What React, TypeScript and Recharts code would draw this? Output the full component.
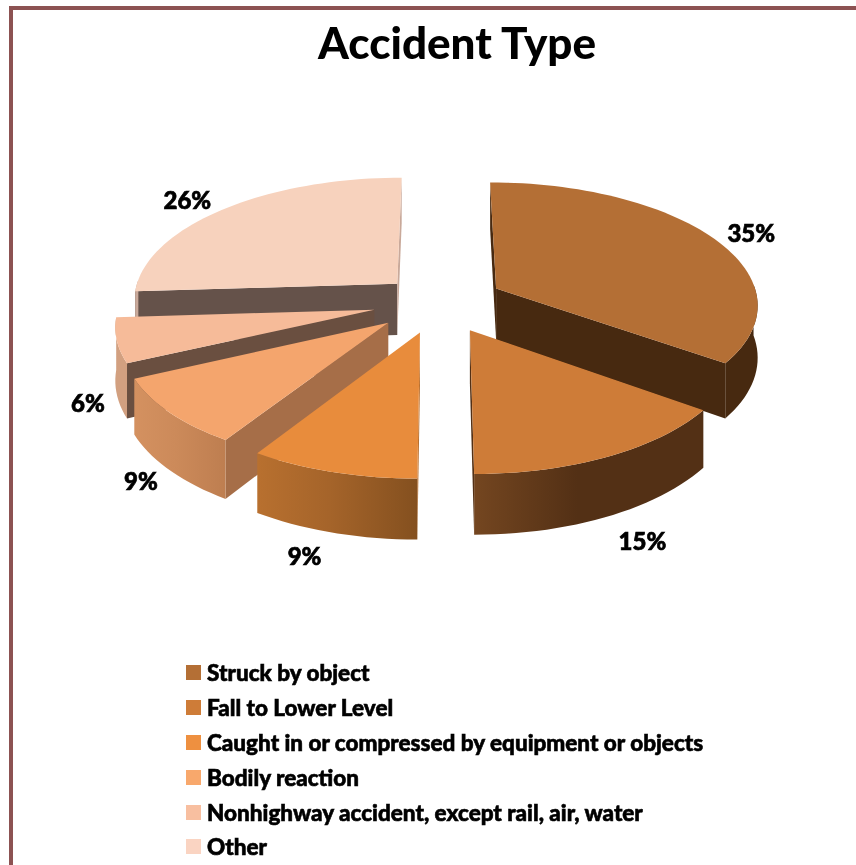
import React from "react";
import { PieChart, Pie, Legend } from "recharts";

const categories = [
  "Struck by object",
  "Fall to Lower Level",
  "Caught in or compressed by equipment or objects",
  "Bodily reaction",
  "Nonhighway accident, except rail, air, water",
  "Other",
];
const shares = [35, 15, 9, 9, 6, 26];
const title = "Accident Type";

const topColors = ["#B46F35", "#CE7C38", "#E88C3C", "#F4A56D", "#F6BB99", "#F7D2BD"];
const swatchColors = ["#B46F35", "#CE7C38", "#EE9040", "#F8A86C", "#F8BFA0", "#FAD4C2"];
const wallColors = ["#472910", "#533015", "#B9702F", "#A66E48", "#6A4F40", "#65524A"];
const rimLeft = ["#472910", "#744620", "#B8702F", "#D49160", "#D2A080", "#C9A99A"];
const rimMid = ["#472910", "#533015", "#A5642A", "#CC8A5A", "#D2A080", "#C9A99A"];
const rimRight = ["#472910", "#533015", "#84501F", "#BE7E50", "#D2A080", "#C9A99A"];
const explodeBy = [0.245, 0.25, 0.25, 0.25, 0.25, 0.22];
const radiusScale = [0.99, 0.975, 0.985, 0.975, 0.96, 1.0];
const labelReach = [1.2, 1.2, 1.16, 1.13, 1.1, 1.2];
const labelNudgeX = [-4, -3, -10, 10, 10, -6];
const labelNudgeY = [5, -11, -7, -6, 3, 5];

// Painter's order: the wheel runs counter-clockwise from the end of the first slice,
// so the back slices paint before the front ones.
const drawOrder = [0, 5, 4, 3, 2, 1];
const pieData = drawOrder.map((i) => ({
  name: categories[i],
  value: shares[i],
  index: i,
}));

const PERSPECTIVE = 0.12;
const TILT = 0.464;
const DEPTH = 52;
const FONT = "Lato, Carlito, sans-serif";

type Pt = [number, number];

function makeProjector(cx: number, cy: number, r: number) {
  return (X: number, Y: number, down = 0): Pt => {
    const s = 1 / (1 - PERSPECTIVE * Y);
    return [cx + r * X * s, cy + r * TILT * Y * s + down * s];
  };
}
const dirOf = (theta: number): Pt => {
  const t = (theta * Math.PI) / 180;
  return [Math.sin(t), -Math.cos(t)];
};
const toPath = (pts: Pt[]) =>
  "M" + pts.map((p) => `${p[0].toFixed(2)},${p[1].toFixed(2)}`).join("L") + "Z";

function Slice3D(props: any) {
  const { cx, cy, outerRadius, startAngle, endAngle, midAngle, payload } = props;
  const i = payload.index;
  const project = makeProjector(cx, cy, outerRadius);
  const t1 = 90 - Math.max(startAngle, endAngle);
  const t2 = 90 - Math.min(startAngle, endAngle);
  const a = ((t1 % 360) + 360) % 360;
  const b = a + (t2 - t1);
  const mid = 90 - midAngle;
  const [ex, ey] = dirOf(mid);
  const ax = ex * explodeBy[i];
  const ay = ey * explodeBy[i];
  const rs = radiusScale[i];
  const rimPoint = (theta: number, down = 0) => {
    const [dx, dy] = dirOf(theta);
    return project(ax + dx * rs, ay + dy * rs, down);
  };
  const arc = (from: number, to: number, down = 0) => {
    const pts: Pt[] = [];
    const n = Math.max(2, Math.ceil((to - from) / 2));
    for (let k = 0; k <= n; k++) pts.push(rimPoint(from + ((to - from) * k) / n, down));
    return pts;
  };
  const apex = project(ax, ay);
  const apexLow = project(ax, ay, DEPTH);
  const wall = (theta: number) => toPath([apex, rimPoint(theta), rimPoint(theta, DEPTH), apexLow]);
  const endVisible = rimPoint(b)[0] - apex[0] > 0;
  const startVisible = rimPoint(a)[0] - apex[0] < 0;
  const rimA = Math.max(a, 88);
  const rimB = Math.min(b, 272);
  const gradId = `rim-${i}`;
  return (
    <g>
      <defs>
        <linearGradient id={gradId} x1="0" x2="1" y1="0" y2="0">
          <stop offset="0" stopColor={rimLeft[i]} />
          <stop offset="0.45" stopColor={rimMid[i]} />
          <stop offset="1" stopColor={rimRight[i]} />
        </linearGradient>
      </defs>
      {startVisible && <path d={wall(a)} fill={wallColors[i]} />}
      {endVisible && <path d={wall(b)} fill={i === 5 ? rimLeft[i] : wallColors[i]} />}
      {rimB > rimA && (
        <path
          d={toPath([...arc(rimA, rimB), ...arc(rimA, rimB, DEPTH).reverse()])}
          fill={`url(#${gradId})`}
        />
      )}
      <path d={toPath([apex, ...arc(a, b)])} fill={topColors[i]} />
    </g>
  );
}

function sliceLabel(props: any) {
  const { cx, cy, outerRadius, midAngle, payload } = props;
  const i = payload.index;
  const project = makeProjector(cx, cy, outerRadius);
  const [ex, ey] = dirOf(90 - midAngle);
  const reach = labelReach[i] + explodeBy[i];
  const [x, y] = project(ex * reach, ey * reach, ey > 0 ? DEPTH : 0);
  return (
    <text
      key={i}
      x={x + labelNudgeX[i]}
      y={y + labelNudgeY[i]}
      textAnchor="middle"
      dominantBaseline="central"
      fontFamily={FONT}
      fontWeight={900}
      fontSize={24}
      fill="#000"
      stroke="#000"
      strokeWidth={0.7}
    >
      {`${payload.value}%`}
    </text>
  );
}

function LegendList() {
  return (
    <div style={{ fontFamily: FONT }}>
      {categories.map((name, i) => (
        <div key={name} style={{ display: "flex", alignItems: "center", height: 34.9 }}>
          <span
            style={{
              width: 15,
              height: 15,
              marginRight: 6,
              background: swatchColors[i],
              flex: "none",
            }}
          />
          <span
            style={{
              fontSize: 22.5,
              fontWeight: 900,
              color: "#000",
              whiteSpace: "nowrap",
              WebkitTextStroke: "0.6px #000",
            }}
          >
            {name}
          </span>
        </div>
      ))}
    </div>
  );
}

export default function App() {
  return (
    <div
      style={{
        position: "absolute",
        left: 0,
        top: 0,
        width: 856,
        height: 865,
        overflow: "hidden",
        background: "#fff",
        filter: "blur(0.6px)",
      }}
    >
      <div style={{ position: "absolute", left: 9, top: 6, width: 847, height: 4, background: "#8C5252" }} />
      <div style={{ position: "absolute", left: 9, top: 6, width: 4, height: 859, background: "#8C5252" }} />
      <div
        style={{
          position: "absolute",
          left: 0,
          width: 914,
          top: 12,
          textAlign: "center",
          fontFamily: FONT,
          fontWeight: 900,
          fontSize: 44,
          lineHeight: "60px",
          color: "#000",
        }}
      >
        {title}
      </div>
      <div style={{ position: "absolute", left: 0, top: 0 }}>
        <PieChart width={856} height={865} margin={{ top: 0, right: 0, bottom: 0, left: 0 }}>
          <Pie
            data={pieData}
            dataKey="value"
            nameKey="name"
            cx={439}
            cy={302}
            innerRadius={0}
            outerRadius={265}
            startAngle={-36}
            endAngle={324}
            stroke="none"
            isAnimationActive={false}
            labelLine={false}
            label={sliceLabel}
            shape={Slice3D}
          />
          <Legend
            content={<LegendList />}
            wrapperStyle={{ position: "absolute", left: 186, top: 655, width: 640, height: 210 }}
          />
        </PieChart>
      </div>
    </div>
  );
}
